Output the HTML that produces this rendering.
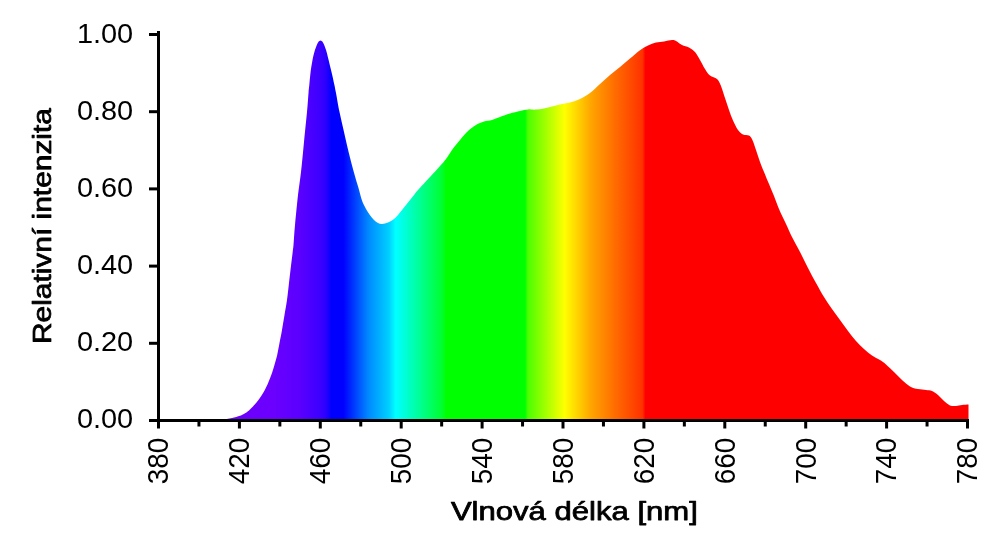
<!DOCTYPE html>
<html lang="cs"><head><meta charset="utf-8"><title>Spektrum</title>
<style>
html,body{margin:0;padding:0;background:#fff;}
body{width:1000px;height:550px;overflow:hidden;}
svg{display:block;}
text{font-family:"Liberation Sans",sans-serif;fill:#000;}
.lab text{font-size:27.5px;}
.xl text{font-size:29.3px;}
.ttl{font-size:25.5px;font-weight:normal;stroke:#000;stroke-width:0.75px;stroke-linejoin:round;}
</style></head><body>
<svg width="1000" height="550" viewBox="0 0 1000 550">
<defs><linearGradient id="sp" gradientUnits="userSpaceOnUse" x1="158.5" y1="0" x2="968.5" y2="0"><stop offset="0.0000" stop-color="#6c00fe"/><stop offset="0.1401" stop-color="#6c00fe"/><stop offset="0.1747" stop-color="#5a00ff"/><stop offset="0.1994" stop-color="#3c00ff"/><stop offset="0.2068" stop-color="#2a00ff"/><stop offset="0.2136" stop-color="#0000ff"/><stop offset="0.2284" stop-color="#0000ff"/><stop offset="0.2599" stop-color="#008cff"/><stop offset="0.2846" stop-color="#00d0ff"/><stop offset="0.2926" stop-color="#00ffff"/><stop offset="0.2938" stop-color="#00ffff"/><stop offset="0.3500" stop-color="#00ff30"/><stop offset="0.3549" stop-color="#00ff00"/><stop offset="0.4525" stop-color="#00ff00"/><stop offset="0.4562" stop-color="#4cff00"/><stop offset="0.5012" stop-color="#ffff00"/><stop offset="0.5327" stop-color="#ffa800"/><stop offset="0.5636" stop-color="#ff6c00"/><stop offset="0.5975" stop-color="#ff3200"/><stop offset="0.6012" stop-color="#ff0000"/><stop offset="1.0000" stop-color="#ff0000"/></linearGradient></defs>
<rect width="1000" height="550" fill="#fff"/>
<path d="M158.5,420.5C165.4,420.5 190.6,420.5 200.0,420.4C209.4,420.3 211.0,420.1 215.0,420.0C219.0,419.9 221.2,419.9 224.0,419.6C226.8,419.3 229.3,418.7 232.0,418.1C234.7,417.5 237.8,416.6 240.0,415.8C242.2,415.0 243.5,414.2 245.0,413.3C246.5,412.4 247.5,411.8 249.0,410.5C250.5,409.2 252.3,407.2 254.0,405.3C255.7,403.4 257.3,401.5 259.0,399.2C260.7,396.9 262.4,394.4 264.0,391.5C265.6,388.6 267.2,385.1 268.5,382.0C269.8,378.9 270.9,376.2 272.0,373.0C273.1,369.8 274.1,366.0 275.0,363.0C275.9,360.0 276.4,358.3 277.2,355.0C277.9,351.7 278.7,347.2 279.5,343.0C280.3,338.8 281.2,334.7 282.0,330.0C282.8,325.3 283.7,320.0 284.5,315.0C285.3,310.0 286.2,305.5 287.0,300.0C287.8,294.5 288.5,287.0 289.1,282.0C289.7,277.0 289.9,275.0 290.5,270.0C291.1,265.0 292.2,256.2 292.7,252.0C293.2,247.8 293.1,249.5 293.5,245.0C293.9,240.5 294.2,233.3 295.0,225.0C295.8,216.7 297.0,203.8 298.0,195.0C299.0,186.2 300.0,180.8 301.0,172.0C302.0,163.2 303.0,152.0 304.0,142.0C305.0,132.0 306.2,120.3 307.0,112.0C307.8,103.7 308.2,96.5 308.6,92.0C309.0,87.5 309.0,88.3 309.3,85.0C309.6,81.7 310.1,76.2 310.6,72.0C311.1,67.8 311.9,63.3 312.5,60.0C313.1,56.7 313.7,54.5 314.4,52.0C315.1,49.5 316.1,46.7 316.8,45.0C317.5,43.3 318.0,42.7 318.4,42.0C318.8,41.3 319.0,41.3 319.4,41.0C319.8,40.7 320.1,40.4 320.5,40.4C320.9,40.4 321.2,40.7 321.6,41.0C322.0,41.3 322.2,41.3 322.6,42.0C323.0,42.7 323.5,43.3 324.2,45.0C324.9,46.7 325.9,49.5 326.6,52.0C327.3,54.5 327.8,56.7 328.6,60.0C329.4,63.3 330.5,67.8 331.5,72.0C332.5,76.2 333.7,81.7 334.4,85.0C335.1,88.3 334.9,87.5 335.8,92.0C336.7,96.5 338.1,105.3 339.5,112.0C340.9,118.7 342.5,125.3 344.0,132.0C345.5,138.7 347.0,145.3 348.6,152.0C350.2,158.7 352.2,166.0 353.8,172.0C355.4,178.0 357.1,183.2 358.5,188.0C359.9,192.8 360.8,197.1 362.0,200.6C363.2,204.1 364.7,206.6 366.0,209.0C367.3,211.4 368.7,213.4 370.0,215.2C371.3,217.0 372.7,218.7 374.0,220.0C375.3,221.3 376.6,222.3 378.0,223.0C379.4,223.7 380.5,224.1 382.2,224.0C383.9,223.9 386.0,223.3 388.0,222.5C390.0,221.7 392.3,220.2 394.0,219.0C395.7,217.8 396.7,216.5 398.0,215.0C399.3,213.5 400.7,211.7 402.0,210.0C403.3,208.3 404.7,206.7 406.0,205.0C407.3,203.3 408.7,201.7 410.0,200.0C411.3,198.3 412.7,196.7 414.0,195.0C415.3,193.3 415.3,193.0 418.0,190.0C420.7,187.0 426.3,181.0 430.0,177.0C433.7,173.0 437.3,169.0 440.0,166.0C442.7,163.0 444.0,161.7 446.0,159.0C448.0,156.3 449.7,153.2 452.0,150.0C454.3,146.8 457.3,143.2 460.0,140.0C462.7,136.8 465.3,133.5 468.0,131.0C470.7,128.5 473.3,126.6 476.0,125.0C478.7,123.4 481.3,122.4 484.0,121.6C486.7,120.8 489.3,120.8 492.0,120.0C494.7,119.2 497.0,118.1 500.0,117.0C503.0,115.9 506.7,114.6 510.0,113.6C513.3,112.6 517.0,111.7 520.0,111.0C523.0,110.3 525.3,109.6 528.0,109.4C530.7,109.2 533.3,109.8 536.0,109.6C538.7,109.4 541.3,108.9 544.0,108.4C546.7,107.9 549.3,107.1 552.0,106.4C554.7,105.7 557.0,105.1 560.0,104.4C563.0,103.7 566.7,103.3 570.0,102.4C573.3,101.5 576.7,100.6 580.0,99.0C583.3,97.4 586.7,95.5 590.0,93.0C593.3,90.5 596.7,87.0 600.0,84.0C603.3,81.0 606.7,77.8 610.0,75.0C613.3,72.2 616.7,69.7 620.0,67.0C623.3,64.3 626.7,61.4 630.0,58.6C633.3,55.8 637.0,52.4 640.0,50.2C643.0,48.0 645.3,46.7 648.0,45.4C650.7,44.1 653.3,43.3 656.0,42.6C658.7,41.9 661.3,41.8 664.0,41.4C666.7,41.0 670.0,40.1 672.0,40.0C674.0,39.9 674.3,40.2 676.0,41.0C677.7,41.8 679.8,43.9 682.0,45.0C684.2,46.1 686.8,46.2 689.0,47.4C691.2,48.6 693.2,49.9 695.0,52.0C696.8,54.1 698.3,57.2 700.0,60.0C701.7,62.8 703.3,66.4 705.0,69.0C706.7,71.6 708.0,73.9 710.0,75.6C712.0,77.3 715.2,77.3 717.0,79.0C718.8,80.7 719.7,82.8 721.0,86.0C722.3,89.2 723.7,94.0 725.0,98.0C726.3,102.0 727.7,106.2 729.0,110.0C730.3,113.8 731.5,117.2 733.0,120.5C734.5,123.8 736.3,127.7 738.0,130.0C739.7,132.3 741.2,133.5 743.0,134.4C744.8,135.3 747.4,134.7 749.0,135.6C750.6,136.5 751.2,137.6 752.4,140.0C753.6,142.4 754.7,146.3 756.0,150.0C757.3,153.7 758.7,158.3 760.0,162.0C761.3,165.7 762.5,168.3 764.0,172.0C765.5,175.7 767.3,180.0 769.0,184.0C770.7,188.0 772.3,191.8 774.0,196.0C775.7,200.2 777.0,204.3 779.0,209.0C781.0,213.7 783.8,219.3 786.0,224.0C788.2,228.7 789.7,232.3 792.0,237.0C794.3,241.7 797.3,246.8 800.0,252.0C802.7,257.2 805.3,262.8 808.0,268.0C810.7,273.2 813.3,278.2 816.0,283.0C818.7,287.8 821.3,292.7 824.0,297.0C826.7,301.3 829.3,305.2 832.0,309.0C834.7,312.8 837.3,316.3 840.0,320.0C842.7,323.7 845.3,327.5 848.0,331.0C850.7,334.5 853.3,338.0 856.0,341.0C858.7,344.0 861.3,346.6 864.0,349.0C866.7,351.4 869.3,353.6 872.0,355.4C874.7,357.2 877.7,358.5 880.0,360.0C882.3,361.5 883.7,362.4 886.0,364.4C888.3,366.4 891.3,369.4 894.0,372.0C896.7,374.6 899.3,377.6 902.0,380.0C904.7,382.4 907.3,384.9 910.0,386.4C912.7,387.9 915.3,388.4 918.0,389.0C920.7,389.6 923.7,389.7 926.0,390.0C928.3,390.3 930.0,390.2 932.0,391.0C934.0,391.8 936.0,393.3 938.0,395.0C940.0,396.7 942.0,399.3 944.0,401.0C946.0,402.7 948.0,404.6 950.0,405.4C952.0,406.2 954.0,406.1 956.0,406.0C958.0,405.9 959.9,405.2 962.0,405.0C964.1,404.8 967.4,404.7 968.5,404.6L968.5,421L158.5,421Z" fill="url(#sp)"/>
<g stroke="#000" stroke-width="3" fill="none">
<line x1="158.5" y1="31" x2="158.5" y2="422"/>
<line x1="149" y1="420.5" x2="969" y2="420.5"/>
<line x1="158.50" y1="420.5" x2="158.50" y2="428.5"/><line x1="198.95" y1="420.5" x2="198.95" y2="426.5"/><line x1="239.40" y1="420.5" x2="239.40" y2="428.5"/><line x1="279.85" y1="420.5" x2="279.85" y2="426.5"/><line x1="320.30" y1="420.5" x2="320.30" y2="428.5"/><line x1="360.75" y1="420.5" x2="360.75" y2="426.5"/><line x1="401.20" y1="420.5" x2="401.20" y2="428.5"/><line x1="441.65" y1="420.5" x2="441.65" y2="426.5"/><line x1="482.10" y1="420.5" x2="482.10" y2="428.5"/><line x1="522.55" y1="420.5" x2="522.55" y2="426.5"/><line x1="563.00" y1="420.5" x2="563.00" y2="428.5"/><line x1="603.45" y1="420.5" x2="603.45" y2="426.5"/><line x1="643.90" y1="420.5" x2="643.90" y2="428.5"/><line x1="684.35" y1="420.5" x2="684.35" y2="426.5"/><line x1="724.80" y1="420.5" x2="724.80" y2="428.5"/><line x1="765.25" y1="420.5" x2="765.25" y2="426.5"/><line x1="805.70" y1="420.5" x2="805.70" y2="428.5"/><line x1="846.15" y1="420.5" x2="846.15" y2="426.5"/><line x1="886.60" y1="420.5" x2="886.60" y2="428.5"/><line x1="927.05" y1="420.5" x2="927.05" y2="426.5"/><line x1="967.50" y1="420.5" x2="967.50" y2="428.5"/><line x1="149" y1="420.50" x2="158.5" y2="420.50"/><line x1="149" y1="343.30" x2="158.5" y2="343.30"/><line x1="149" y1="266.10" x2="158.5" y2="266.10"/><line x1="149" y1="188.90" x2="158.5" y2="188.90"/><line x1="149" y1="111.70" x2="158.5" y2="111.70"/><line x1="149" y1="34.50" x2="158.5" y2="34.50"/>
</g>
<g class="lab"><text x="133.2" y="428.40" text-anchor="end" textLength="56.3" lengthAdjust="spacingAndGlyphs">0.00</text><text x="133.2" y="351.40" text-anchor="end" textLength="56.3" lengthAdjust="spacingAndGlyphs">0.20</text><text x="133.2" y="274.40" text-anchor="end" textLength="56.3" lengthAdjust="spacingAndGlyphs">0.40</text><text x="133.2" y="197.40" text-anchor="end" textLength="56.3" lengthAdjust="spacingAndGlyphs">0.60</text><text x="133.2" y="120.40" text-anchor="end" textLength="56.3" lengthAdjust="spacingAndGlyphs">0.80</text><text x="133.2" y="43.40" text-anchor="end" textLength="56.3" lengthAdjust="spacingAndGlyphs">1.00</text></g>
<g class="lab xl"><text transform="translate(168.30,437.8) rotate(-90)" text-anchor="end" textLength="46.4" lengthAdjust="spacingAndGlyphs">380</text><text transform="translate(249.20,437.8) rotate(-90)" text-anchor="end" textLength="46.4" lengthAdjust="spacingAndGlyphs">420</text><text transform="translate(330.10,437.8) rotate(-90)" text-anchor="end" textLength="46.4" lengthAdjust="spacingAndGlyphs">460</text><text transform="translate(411.00,437.8) rotate(-90)" text-anchor="end" textLength="46.4" lengthAdjust="spacingAndGlyphs">500</text><text transform="translate(491.90,437.8) rotate(-90)" text-anchor="end" textLength="46.4" lengthAdjust="spacingAndGlyphs">540</text><text transform="translate(572.80,437.8) rotate(-90)" text-anchor="end" textLength="46.4" lengthAdjust="spacingAndGlyphs">580</text><text transform="translate(653.70,437.8) rotate(-90)" text-anchor="end" textLength="46.4" lengthAdjust="spacingAndGlyphs">620</text><text transform="translate(734.60,437.8) rotate(-90)" text-anchor="end" textLength="46.4" lengthAdjust="spacingAndGlyphs">660</text><text transform="translate(815.50,437.8) rotate(-90)" text-anchor="end" textLength="46.4" lengthAdjust="spacingAndGlyphs">700</text><text transform="translate(896.40,437.8) rotate(-90)" text-anchor="end" textLength="46.4" lengthAdjust="spacingAndGlyphs">740</text><text transform="translate(977.30,437.8) rotate(-90)" text-anchor="end" textLength="46.4" lengthAdjust="spacingAndGlyphs">780</text></g>
<text class="ttl" transform="translate(50.8,226.1) rotate(-90)" text-anchor="middle" textLength="236" lengthAdjust="spacingAndGlyphs">Relativní intenzita</text>
<text class="ttl" x="574.4" y="520.1" text-anchor="middle" textLength="247" lengthAdjust="spacingAndGlyphs">Vlnová délka [nm]</text>
</svg>
</body></html>
